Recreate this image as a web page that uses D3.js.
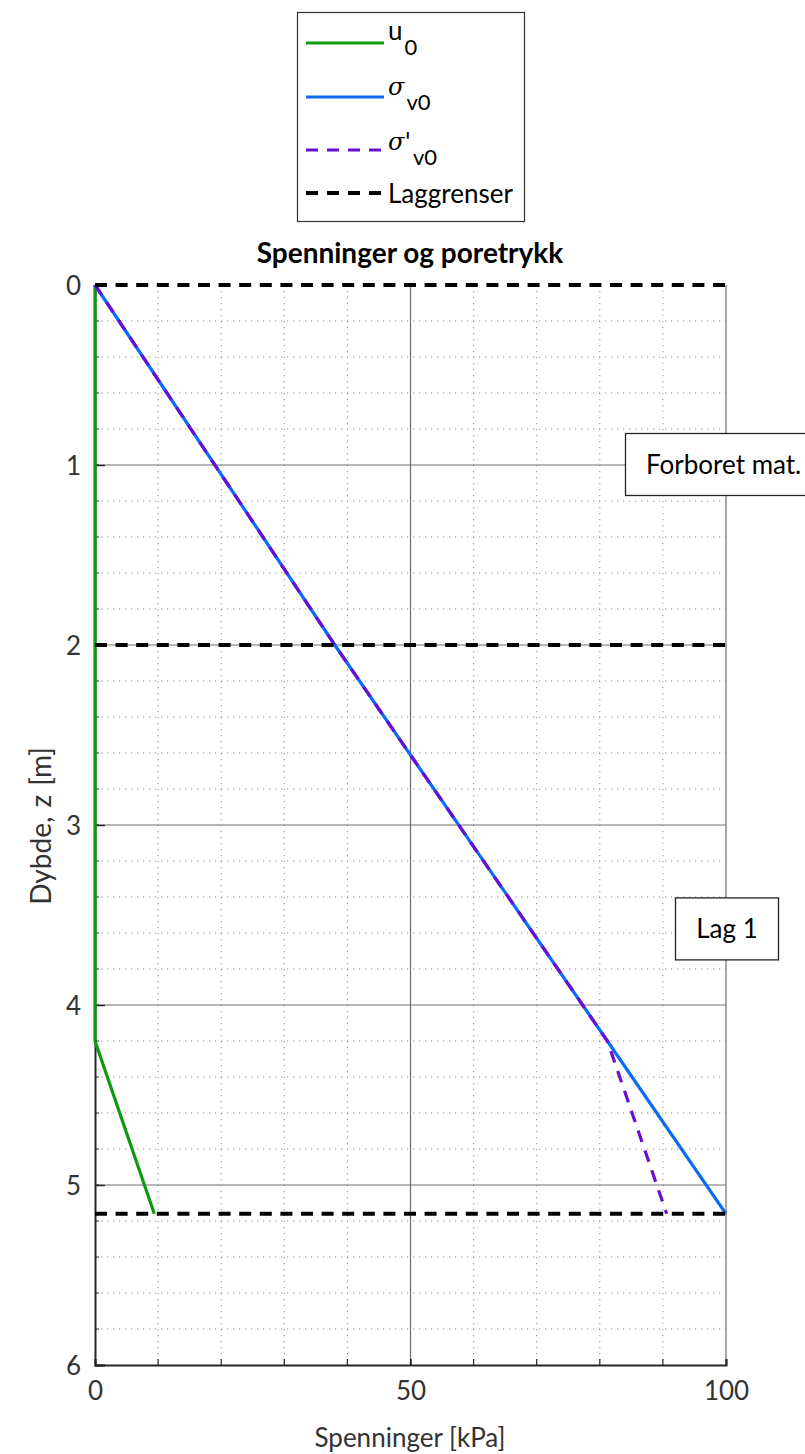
<!DOCTYPE html>
<html><head><meta charset="utf-8">
<script src="https://cdn.jsdelivr.net/npm/d3@7"></script>
<style>body{margin:0;background:#fff}svg{display:block}text{font-family:Lato,"Open Sans",sans-serif}</style>
</head><body>
<svg id="c" width="805" height="1454"></svg>
<script>
// Data
const u0 = [{s:0,z:0},{s:0,z:4.2},{s:9.4,z:5.16}];
const sigmaV0 = [{s:0,z:0},{s:38,z:2},{s:81.2,z:4.2},{s:100,z:5.16}];
const sigmaV0eff = [{s:0,z:0},{s:38,z:2},{s:81.2,z:4.2},{s:90.6,z:5.16}];
const layerBounds = [0, 2, 5.16];
const xTicks = [0, 50, 100];
const yTicks = [0, 1, 2, 3, 4, 5, 6];
const labels = [{text:"Forboret mat.", z:1}, {text:"Lag 1", z:3.58}];

const svg = d3.select("#c");
const x = d3.scaleLinear().domain([0,100]).range([95,726]);
const y = d3.scaleLinear().domain([0,6]).range([285,1365]);

// minor grid
const g = svg.append("g");
g.selectAll(".mx").data(d3.range(10,100,10).filter(v=>v!==50)).join("line")
  .attr("x1",d=>x(d)).attr("x2",d=>x(d)).attr("y1",y(0)).attr("y2",y(6))
  .attr("stroke","#8a8a8a").attr("stroke-width",1).attr("stroke-dasharray","1.2,4.8");
g.selectAll(".my").data(d3.range(1,30).map(i=>i*0.2).filter(v=>Math.abs(v-Math.round(v))>1e-6)).join("line")
  .attr("x1",x(0)).attr("x2",x(100)).attr("y1",d=>y(d)).attr("y2",d=>y(d))
  .attr("stroke","#8a8a8a").attr("stroke-width",1).attr("stroke-dasharray","1.2,4.8");
// major grid
g.selectAll(".Mx").data([50,100]).join("line")
  .attr("x1",d=>x(d)).attr("x2",d=>x(d)).attr("y1",y(0)).attr("y2",y(6))
  .attr("stroke","#6e6e6e").attr("stroke-width",1.2);
g.selectAll(".My").data([1,2,3,4,5]).join("line")
  .attr("x1",x(0)).attr("x2",x(100)).attr("y1",d=>y(d)).attr("y2",d=>y(d))
  .attr("stroke","#6e6e6e").attr("stroke-width",1.2);

// axes
const yAx = d3.axisLeft(y).tickValues(yTicks).tickSize(-10).tickPadding(14).tickFormat(d3.format("d"));
const yg = svg.append("g").attr("transform",`translate(${x(0)},0)`).call(yAx);
yg.selectAll(".tick line").attr("stroke","#262626").attr("stroke-width",1.5);
yg.append("g").selectAll("line").data(d3.range(1,30).map(i=>i*0.2)).join("line")
  .attr("x1",0).attr("x2",4).attr("y1",d=>y(d)).attr("y2",d=>y(d)).attr("stroke","#262626");
const xAx = d3.axisBottom(x).tickValues(xTicks).tickSize(-6).tickPadding(17);
const xg = svg.append("g").attr("transform",`translate(0,${y(6)})`).call(xAx);
xg.selectAll(".tick line").attr("stroke","#262626").attr("stroke-width",1.5);
xg.append("g").selectAll("line").data(d3.range(10,100,10)).join("line")
  .attr("x1",d=>x(d)).attr("x2",d=>x(d)).attr("y1",0).attr("y2",-6).attr("stroke","#262626").attr("stroke-width",1.2);
[yg,xg].forEach(a=>{a.select(".domain").attr("stroke","#262626").attr("stroke-width",2);
  a.selectAll(".tick text").attr("fill","#333").style("font-size","26px").style("font-family","Lato,sans-serif");});
yg.selectAll(".tick text").attr("dy","0.35em");
xg.selectAll(".tick text").attr("dy","0.7em");

// series
const line = d3.line().x(d=>x(d.s)).y(d=>y(d.z));
svg.append("path").datum(u0).attr("d",line).attr("fill","none").attr("stroke","#0e9a0e").attr("stroke-width",3.2);
svg.append("path").datum(sigmaV0).attr("d",line).attr("fill","none").attr("stroke","#0a6cf5").attr("stroke-width",3.2);
svg.append("path").datum(sigmaV0eff).attr("d",line).attr("fill","none").attr("stroke","#6a0fd0").attr("stroke-width",3.2).attr("stroke-dasharray","12,9");
svg.selectAll(".lb").data(layerBounds).join("line")
  .attr("x1",x(0)).attr("x2",x(100)).attr("y1",d=>y(d)).attr("y2",d=>y(d))
  .attr("stroke","#000").attr("stroke-width",4).attr("stroke-dasharray","12,8.6");

// labels boxes
const lg = svg.append("g");
lg.append("rect").attr("x",625.5).attr("y",y(labels[0].z)-31.5).attr("width",190).attr("height",62).attr("fill","#fff").attr("stroke","#222").attr("stroke-width",1.3);
lg.append("text").attr("x",646).attr("y",y(labels[0].z)+9).text(labels[0].text).style("font-size","26px").attr("fill","#000");
lg.append("rect").attr("x",675.5).attr("y",y(labels[1].z)-31.5).attr("width",103).attr("height",62).attr("fill","#fff").attr("stroke","#222").attr("stroke-width",1.3);
lg.append("text").attr("x",727).attr("y",y(labels[1].z)+9).attr("text-anchor","middle").text(labels[1].text).style("font-size","26px").attr("fill","#000");

// title and axis labels
svg.append("text").attr("x",410).attr("y",263).attr("text-anchor","middle").style("font-size","28px").style("font-weight","bold").text("Spenninger og poretrykk");
svg.append("text").attr("x",410).attr("y",1447).attr("text-anchor","middle").style("font-size","26px").attr("fill","#333").text("Spenninger [kPa]");
svg.append("text").attr("transform","translate(51,826) rotate(-90)").attr("text-anchor","middle").style("font-size","28px").style("word-spacing","2px").attr("fill","#333").text("Dybde, z [m]");

// legend
const L = svg.append("g");
L.append("rect").attr("x",297.5).attr("y",12.5).attr("width",227).attr("height",209).attr("fill","#fff").attr("stroke","#333").attr("stroke-width",1.2);
const leg = [
  {c:"#0e9a0e",dash:null,main:"u",sub:"0",y:43,by:40},
  {c:"#0a6cf5",dash:null,main:"σ",sub:"v0",y:97,by:95},
  {c:"#6a0fd0",dash:"12,9",main:"σ'",sub:"v0",y:150,by:150},
  {c:"#000",dash:"12,9",main:"Laggrenser",sub:null,y:193,by:203,w:4}
];
leg.forEach(e=>{
  L.append("line").attr("x1",306).attr("x2",384).attr("y1",e.y).attr("y2",e.y).attr("stroke",e.c).attr("stroke-width",e.w||3.2).attr("stroke-dasharray",e.dash);
  const t = L.append("text").attr("x",388).attr("y",e.by).style("font-size","26px").attr("fill","#000");
  if(e.main.startsWith("σ")){
    t.append("tspan").text(e.main).style("font-family","'DejaVu Serif',serif").style("font-style","italic").style("font-size","24px");
  } else t.append("tspan").text(e.main);
  if(e.sub) t.append("tspan").attr("dy",15).style("font-size","22px").attr("dx", 2).text(e.sub);
});
</script>
</body></html>
